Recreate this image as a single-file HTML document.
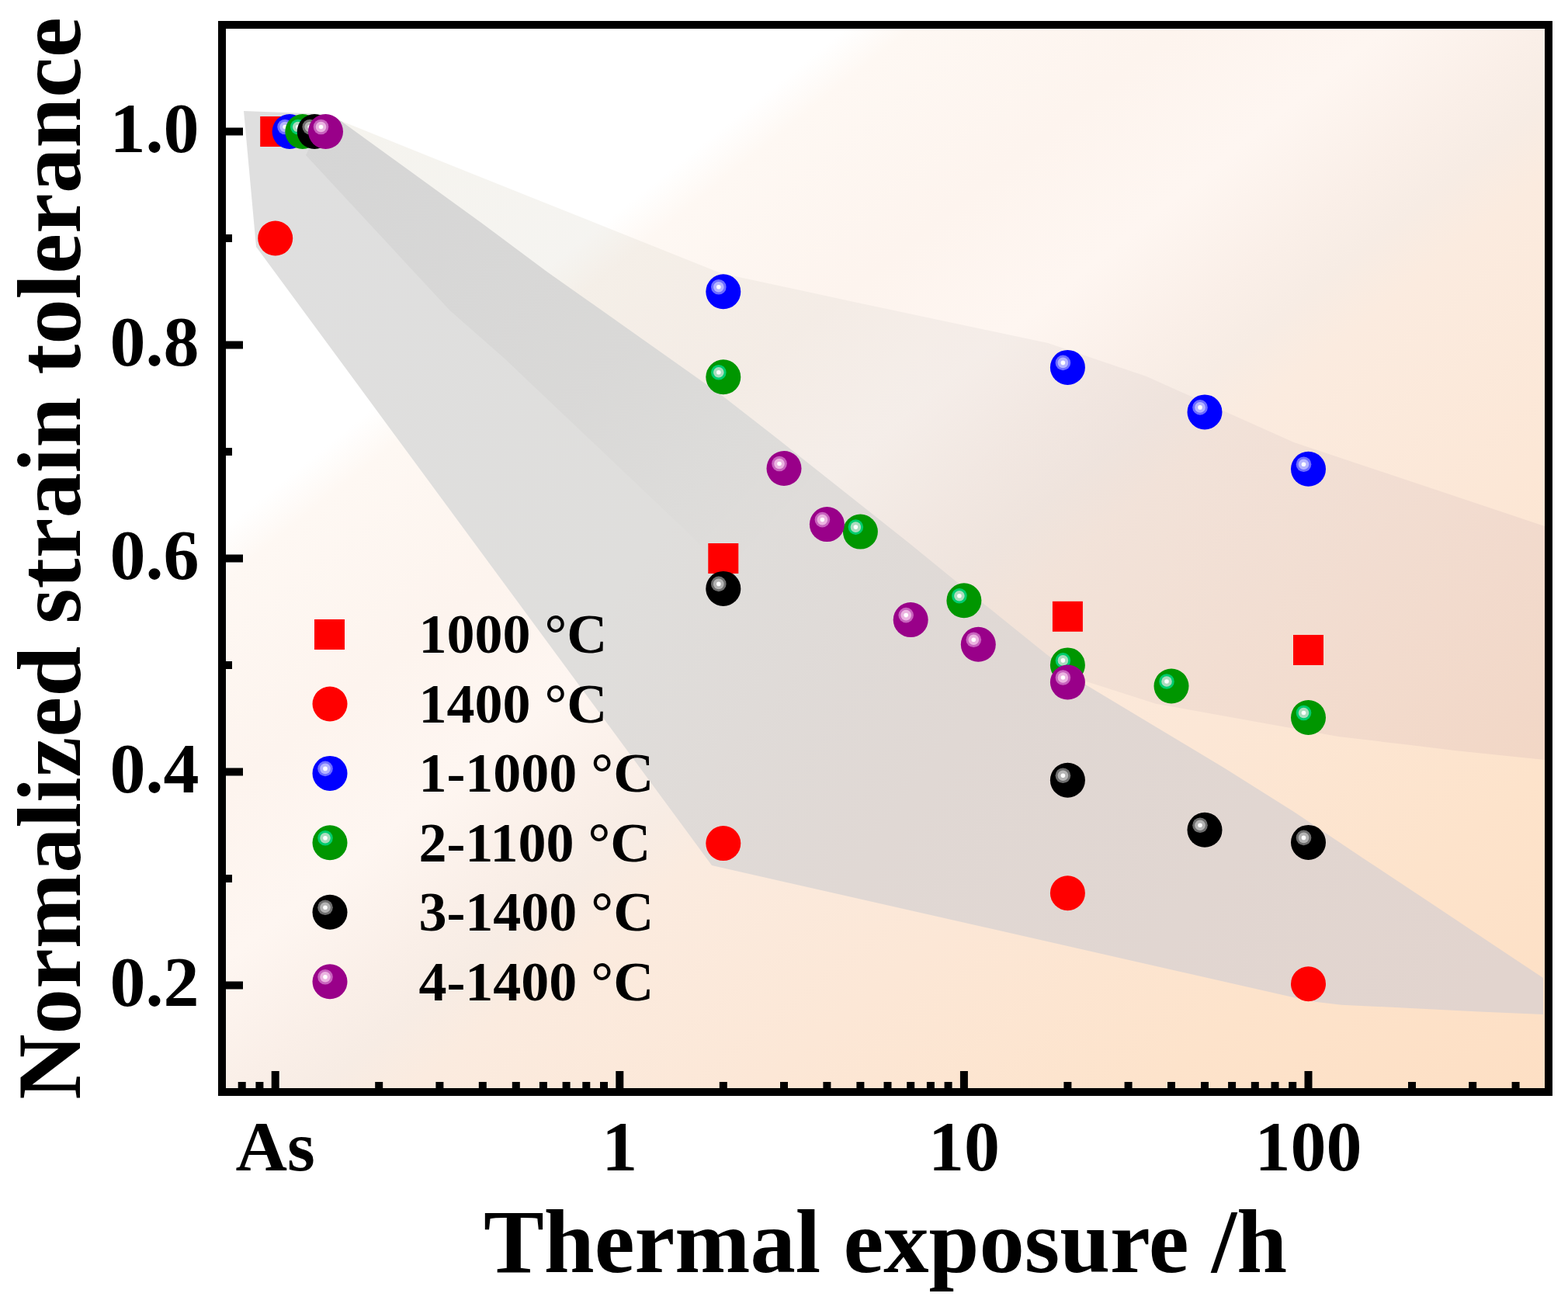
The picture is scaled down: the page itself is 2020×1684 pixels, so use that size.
<!DOCTYPE html><html><head><meta charset="utf-8"><title>Normalized strain tolerance vs thermal exposure</title><style>html,body{margin:0;padding:0;background:#fff}body{width:2020px;height:1684px;overflow:hidden}svg{display:block}text{font-family:'Liberation Serif','Times New Roman',serif;font-weight:bold}</style></head><body>
<svg width="2020" height="1684" viewBox="0 0 2020 1684">
<defs><linearGradient id="bg" x1="0" y1="0" x2="1" y2="1"><stop offset="0" stop-color="#ffffff"/><stop offset="0.235" stop-color="#ffffff"/><stop offset="0.26" stop-color="#fef8f3"/><stop offset="0.36" stop-color="#fdf4ee"/><stop offset="0.44" stop-color="#fef6f1"/><stop offset="0.5" stop-color="#faefe8"/><stop offset="0.535" stop-color="#f7ece4"/><stop offset="0.57" stop-color="#fbebdf"/><stop offset="0.7" stop-color="#fce7d6"/><stop offset="0.85" stop-color="#fde3cb"/><stop offset="1" stop-color="#fddfc4"/></linearGradient><linearGradient id="ga" gradientUnits="userSpaceOnUse" x1="400" y1="200" x2="1900" y2="1300"><stop offset="0" stop-color="#dfdfdf"/><stop offset="0.35" stop-color="#dfdedc"/><stop offset="0.6" stop-color="#e0d8d4"/><stop offset="1" stop-color="#e2d4ce"/></linearGradient><linearGradient id="gc" gradientUnits="userSpaceOnUse" x1="450" y1="160" x2="1990" y2="900"><stop offset="0" stop-color="#d6cfb8" stop-opacity="0.24"/><stop offset="0.45" stop-color="#d4d0cc" stop-opacity="0.22"/><stop offset="1" stop-color="#d0b0b4" stop-opacity="0.24"/></linearGradient><linearGradient id="gd" gradientUnits="userSpaceOnUse" x1="420" y1="170" x2="1000" y2="700"><stop offset="0" stop-color="#202020" stop-opacity="0.05"/><stop offset="0.6" stop-color="#202020" stop-opacity="0.03"/><stop offset="1" stop-color="#202020" stop-opacity="0"/></linearGradient></defs>
<rect x="291" y="37" width="1699" height="1365" fill="url(#bg)"/>
<polygon points="438.6,155.6 600.0,220.5 928.7,352.0 1100.0,389.0 1350.0,442.0 1477.0,485.0 1667.0,570.0 1990.0,678.0 1990.0,979.0 1874.0,967.0 1817.0,960.0 1724.0,949.0 1489.0,906.7 1390.0,875.0 1376.0,871.0 837.5,659.0 579.5,400.0 394.0,200.0" fill="url(#gc)"/>
<polygon points="314.0,143.0 420.0,147.0 438.6,155.6 620.0,287.0 704.5,350.0 928.7,508.4 1000.0,564.0 1171.5,700.0 1234.0,751.0 1347.5,842.6 1400.0,883.0 1489.0,936.4 1578.0,990.0 1667.0,1046.0 1756.0,1105.7 1845.5,1165.0 1934.6,1224.5 1988.0,1260.0 1988.0,1307.0 1906.0,1303.6 1817.0,1299.0 1728.0,1294.7 1688.0,1290.0 917.0,1115.0 330.0,318.0" fill="url(#ga)"/>
<polygon points="420.0,147.0 438.6,155.6 620.0,287.0 704.5,350.0 928.7,508.4 1000.0,564.0 1171.5,700.0 1234.0,751.0 1347.5,842.6 1400.0,883.0 1100.0,900.0 887.0,687.0 650.0,462.0 579.5,400.0 394.0,200.0" fill="url(#gd)"/>
<rect x="335.2" y="150.0" width="39" height="39" fill="#ff0000"/>
<circle cx="373.1" cy="169.5" r="22.5" fill="#0000ff"/><circle cx="367.1" cy="163.5" r="9.8" fill="#6e6eff"/><circle cx="367.1" cy="163.5" r="6.8" fill="#b4b4ff"/><circle cx="367.1" cy="163.5" r="2.8" fill="#fff"/>
<circle cx="389.8" cy="169.5" r="22.5" fill="#009600"/><circle cx="383.8" cy="163.5" r="9.8" fill="#00cc6e"/><circle cx="383.8" cy="163.5" r="6.8" fill="#aadcbe"/><circle cx="383.8" cy="163.5" r="2.8" fill="#fff"/>
<circle cx="405.2" cy="169.5" r="22.5" fill="#000000"/><circle cx="399.2" cy="163.5" r="9.8" fill="#6e6e6e"/><circle cx="399.2" cy="163.5" r="6.8" fill="#b4b4b4"/><circle cx="399.2" cy="163.5" r="2.8" fill="#fff"/>
<circle cx="419.5" cy="169.5" r="22.5" fill="#990089"/><circle cx="413.5" cy="163.5" r="9.8" fill="#c864be"/><circle cx="413.5" cy="163.5" r="6.8" fill="#ebb4e1"/><circle cx="413.5" cy="163.5" r="2.8" fill="#fff"/>
<circle cx="354.7" cy="307.0" r="22.5" fill="#ff0000"/>
<rect x="912.3" y="700.0" width="39" height="39" fill="#ff0000"/>
<rect x="1355.9" y="774.8" width="39" height="39" fill="#ff0000"/>
<rect x="1666.0" y="818.0" width="39" height="39" fill="#ff0000"/>
<circle cx="931.8" cy="1086.6" r="22.5" fill="#ff0000"/>
<circle cx="1375.4" cy="1150.7" r="22.5" fill="#ff0000"/>
<circle cx="1685.5" cy="1267.7" r="22.5" fill="#ff0000"/>
<circle cx="931.8" cy="375.8" r="22.5" fill="#0000ff"/><circle cx="925.8" cy="369.8" r="9.8" fill="#6e6eff"/><circle cx="925.8" cy="369.8" r="6.8" fill="#b4b4ff"/><circle cx="925.8" cy="369.8" r="2.8" fill="#fff"/>
<circle cx="1375.4" cy="473.4" r="22.5" fill="#0000ff"/><circle cx="1369.4" cy="467.4" r="9.8" fill="#6e6eff"/><circle cx="1369.4" cy="467.4" r="6.8" fill="#b4b4ff"/><circle cx="1369.4" cy="467.4" r="2.8" fill="#fff"/>
<circle cx="1552.0" cy="530.9" r="22.5" fill="#0000ff"/><circle cx="1546.0" cy="524.9" r="9.8" fill="#6e6eff"/><circle cx="1546.0" cy="524.9" r="6.8" fill="#b4b4ff"/><circle cx="1546.0" cy="524.9" r="2.8" fill="#fff"/>
<circle cx="1685.5" cy="604.3" r="22.5" fill="#0000ff"/><circle cx="1679.5" cy="598.3" r="9.8" fill="#6e6eff"/><circle cx="1679.5" cy="598.3" r="6.8" fill="#b4b4ff"/><circle cx="1679.5" cy="598.3" r="2.8" fill="#fff"/>
<circle cx="931.8" cy="485.8" r="22.5" fill="#009600"/><circle cx="925.8" cy="479.8" r="9.8" fill="#00cc6e"/><circle cx="925.8" cy="479.8" r="6.8" fill="#aadcbe"/><circle cx="925.8" cy="479.8" r="2.8" fill="#fff"/>
<circle cx="1108.4" cy="685.1" r="22.5" fill="#009600"/><circle cx="1102.4" cy="679.1" r="9.8" fill="#00cc6e"/><circle cx="1102.4" cy="679.1" r="6.8" fill="#aadcbe"/><circle cx="1102.4" cy="679.1" r="2.8" fill="#fff"/>
<circle cx="1241.9" cy="773.8" r="22.5" fill="#009600"/><circle cx="1235.9" cy="767.8" r="9.8" fill="#00cc6e"/><circle cx="1235.9" cy="767.8" r="6.8" fill="#aadcbe"/><circle cx="1235.9" cy="767.8" r="2.8" fill="#fff"/>
<circle cx="1375.4" cy="856.9" r="22.5" fill="#009600"/><circle cx="1369.4" cy="850.9" r="9.8" fill="#00cc6e"/><circle cx="1369.4" cy="850.9" r="6.8" fill="#aadcbe"/><circle cx="1369.4" cy="850.9" r="2.8" fill="#fff"/>
<circle cx="1509.0" cy="884.0" r="22.5" fill="#009600"/><circle cx="1503.0" cy="878.0" r="9.8" fill="#00cc6e"/><circle cx="1503.0" cy="878.0" r="6.8" fill="#aadcbe"/><circle cx="1503.0" cy="878.0" r="2.8" fill="#fff"/>
<circle cx="1685.5" cy="924.5" r="22.5" fill="#009600"/><circle cx="1679.5" cy="918.5" r="9.8" fill="#00cc6e"/><circle cx="1679.5" cy="918.5" r="6.8" fill="#aadcbe"/><circle cx="1679.5" cy="918.5" r="2.8" fill="#fff"/>
<circle cx="931.8" cy="758.4" r="22.5" fill="#000000"/><circle cx="925.8" cy="752.4" r="9.8" fill="#6e6e6e"/><circle cx="925.8" cy="752.4" r="6.8" fill="#b4b4b4"/><circle cx="925.8" cy="752.4" r="2.8" fill="#fff"/>
<circle cx="1375.4" cy="1005.2" r="22.5" fill="#000000"/><circle cx="1369.4" cy="999.2" r="9.8" fill="#6e6e6e"/><circle cx="1369.4" cy="999.2" r="6.8" fill="#b4b4b4"/><circle cx="1369.4" cy="999.2" r="2.8" fill="#fff"/>
<circle cx="1552.0" cy="1069.3" r="22.5" fill="#000000"/><circle cx="1546.0" cy="1063.3" r="9.8" fill="#6e6e6e"/><circle cx="1546.0" cy="1063.3" r="6.8" fill="#b4b4b4"/><circle cx="1546.0" cy="1063.3" r="2.8" fill="#fff"/>
<circle cx="1685.5" cy="1085.4" r="22.5" fill="#000000"/><circle cx="1679.5" cy="1079.4" r="9.8" fill="#6e6e6e"/><circle cx="1679.5" cy="1079.4" r="6.8" fill="#b4b4b4"/><circle cx="1679.5" cy="1079.4" r="2.8" fill="#fff"/>
<circle cx="1010.0" cy="603.5" r="22.5" fill="#990089"/><circle cx="1004.0" cy="597.5" r="9.8" fill="#c864be"/><circle cx="1004.0" cy="597.5" r="6.8" fill="#ebb4e1"/><circle cx="1004.0" cy="597.5" r="2.8" fill="#fff"/>
<circle cx="1065.4" cy="675.6" r="22.5" fill="#990089"/><circle cx="1059.4" cy="669.6" r="9.8" fill="#c864be"/><circle cx="1059.4" cy="669.6" r="6.8" fill="#ebb4e1"/><circle cx="1059.4" cy="669.6" r="2.8" fill="#fff"/>
<circle cx="1173.2" cy="798.6" r="22.5" fill="#990089"/><circle cx="1167.2" cy="792.6" r="9.8" fill="#c864be"/><circle cx="1167.2" cy="792.6" r="6.8" fill="#ebb4e1"/><circle cx="1167.2" cy="792.6" r="2.8" fill="#fff"/>
<circle cx="1260.3" cy="830.3" r="22.5" fill="#990089"/><circle cx="1254.3" cy="824.3" r="9.8" fill="#c864be"/><circle cx="1254.3" cy="824.3" r="6.8" fill="#ebb4e1"/><circle cx="1254.3" cy="824.3" r="2.8" fill="#fff"/>
<circle cx="1375.4" cy="879.0" r="22.5" fill="#990089"/><circle cx="1369.4" cy="873.0" r="9.8" fill="#c864be"/><circle cx="1369.4" cy="873.0" r="6.8" fill="#ebb4e1"/><circle cx="1369.4" cy="873.0" r="2.8" fill="#fff"/>
<rect x="405.0" y="798.0" width="39" height="39" fill="#ff0000"/>
<text x="539.4" y="841.4" font-size="72">1000 °C</text>
<circle cx="425.0" cy="907.0" r="22.5" fill="#ff0000"/>
<text x="539.4" y="930.9" font-size="72">1400 °C</text>
<circle cx="425.0" cy="996.4" r="22.5" fill="#0000ff"/><circle cx="419.0" cy="990.4" r="9.8" fill="#6e6eff"/><circle cx="419.0" cy="990.4" r="6.8" fill="#b4b4ff"/><circle cx="419.0" cy="990.4" r="2.8" fill="#fff"/>
<text x="539.4" y="1020.3" font-size="72">1-1000 °C</text>
<circle cx="425.0" cy="1085.8" r="22.5" fill="#009600"/><circle cx="419.0" cy="1079.8" r="9.8" fill="#00cc6e"/><circle cx="419.0" cy="1079.8" r="6.8" fill="#aadcbe"/><circle cx="419.0" cy="1079.8" r="2.8" fill="#fff"/>
<text x="539.4" y="1109.8" font-size="72">2-1100 °C</text>
<circle cx="425.0" cy="1175.3" r="22.5" fill="#000000"/><circle cx="419.0" cy="1169.3" r="9.8" fill="#6e6e6e"/><circle cx="419.0" cy="1169.3" r="6.8" fill="#b4b4b4"/><circle cx="419.0" cy="1169.3" r="2.8" fill="#fff"/>
<text x="539.4" y="1199.2" font-size="72">3-1400 °C</text>
<circle cx="425.0" cy="1264.8" r="22.5" fill="#990089"/><circle cx="419.0" cy="1258.8" r="9.8" fill="#c864be"/><circle cx="419.0" cy="1258.8" r="6.8" fill="#ebb4e1"/><circle cx="419.0" cy="1258.8" r="2.8" fill="#fff"/>
<text x="539.4" y="1288.7" font-size="72">4-1400 °C</text>
<path d="M354.7 1402V1380 M798.3 1402V1380 M1241.9 1402V1380 M1685.5 1402V1380 M311.7 1402V1394 M334.4 1402V1394 M488.2 1402V1394 M566.4 1402V1394 M621.8 1402V1394 M664.8 1402V1394 M699.9 1402V1394 M729.6 1402V1394 M755.3 1402V1394 M778.0 1402V1394 M931.8 1402V1394 M1010.0 1402V1394 M1065.4 1402V1394 M1108.4 1402V1394 M1143.5 1402V1394 M1173.2 1402V1394 M1198.9 1402V1394 M1221.6 1402V1394 M1375.4 1402V1394 M1453.6 1402V1394 M1509.0 1402V1394 M1552.0 1402V1394 M1587.1 1402V1394 M1616.8 1402V1394 M1642.5 1402V1394 M1665.2 1402V1394 M1819.0 1402V1394 M1897.2 1402V1394 M1952.6 1402V1394 M291 1269.5H313 M291 994.5H313 M291 719.5H313 M291 444.5H313 M291 169.5H313 M291 1132.0H299 M291 857.0H299 M291 582.0H299 M291 307.0H299" stroke="#000" stroke-width="10" fill="none"/>
<rect x="286" y="32" width="1709" height="1375" fill="none" stroke="#000" stroke-width="10"/>
<text x="256.5" y="1296.0" font-size="92" text-anchor="end">0.2</text>
<text x="256.5" y="1021.0" font-size="92" text-anchor="end">0.4</text>
<text x="256.5" y="746.0" font-size="92" text-anchor="end">0.6</text>
<text x="256.5" y="471.0" font-size="92" text-anchor="end">0.8</text>
<text x="256.5" y="196.0" font-size="92" text-anchor="end">1.0</text>
<text x="354.7" y="1508" font-size="92" text-anchor="middle">As</text>
<text x="798.3" y="1508" font-size="92" text-anchor="middle">1</text>
<text x="1241.9" y="1508" font-size="92" text-anchor="middle">10</text>
<text x="1685.5" y="1508" font-size="92" text-anchor="middle">100</text>
<text x="1140.5" y="1639" font-size="116.7" text-anchor="middle">Thermal exposure /h</text>
<text transform="translate(102.5 719.4) rotate(-90)" x="0" y="0" font-size="116.8" text-anchor="middle">Normalized strain tolerance</text>
</svg></body></html>
